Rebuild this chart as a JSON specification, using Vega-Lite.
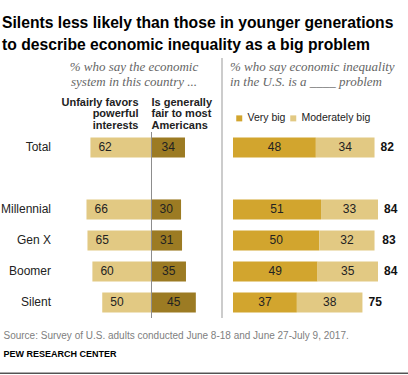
{
  "$schema": "https://vega.github.io/schema/vega-lite/v6.json",
  "width": 408,
  "height": 260,
  "autosize": {"type": "none"},
  "padding": {"left": 0, "top": 58, "right": 0, "bottom": 57},
  "title": {
    "text": ["Silents less likely than those in younger generations", "to describe economic inequality as a big problem"],
    "anchor": "start",
    "frame": "group",
    "dx": 2,
    "offset": 4,
    "font": "Liberation Sans",
    "fontSize": 15.7,
    "fontWeight": "bold",
    "color": "#000000",
    "lineHeight": 22
  },
  "data": {
    "values": [
      {"group": "Total", "unfair": 62, "fair": 34, "Very big": 48, "Moderately big": 34, "total": 82},
      {"group": "Millennial", "unfair": 66, "fair": 30, "Very big": 51, "Moderately big": 33, "total": 84},
      {"group": "Gen X", "unfair": 65, "fair": 31, "Very big": 50, "Moderately big": 32, "total": 83},
      {"group": "Boomer", "unfair": 60, "fair": 35, "Very big": 49, "Moderately big": 35, "total": 84},
      {"group": "Silent", "unfair": 50, "fair": 45, "Very big": 37, "Moderately big": 38, "total": 75}
    ]
  },
  "layer": [
    {
      "mark": {"type": "bar", "height": {"band": 0.65}, "color": "#E2C983"},
      "encoding": {
        "y": {"field": "group", "type": "nominal", "title": null, "axis": null,
          "scale": {"type": "band", "domain": [" ", "  ", "Total", "   ", "Millennial", "Gen X", "Boomer", "Silent"], "paddingInner": 0, "paddingOuter": 0.1935, "align": 1}},
        "x": {"field": "unfair", "type": "quantitative", "scale": {"domain": [-260.4, 153.8], "reverse": true, "nice": false, "zero": false},
          "axis": {"orient": "bottom", "domain": false, "ticks": false, "labels": false, "grid": false, "title": "Source: Survey of U.S. adults conducted June 8-18 and June 27-July 9, 2017.", "titleX": 3, "titleY": 17, "titleAlign": "left", "titleBaseline": "middle", "titleFontSize": 10, "titleFontWeight": "normal", "titleColor": "#808080", "titleFont": "Liberation Sans"}},
        "x2": {"datum": 0}
      }
    },
    {
      "mark": {"type": "text", "align": "right", "baseline": "middle", "font": "Liberation Sans", "fontSize": 12, "color": "#222222"},
      "encoding": {
        "y": {"field": "group", "type": "nominal", "title": null, "axis": null,
          "scale": {"type": "band", "domain": [" ", "  ", "Total", "   ", "Millennial", "Gen X", "Boomer", "Silent"], "paddingInner": 0, "paddingOuter": 0.1935, "align": 1}},
        "x": {"datum": 102, "type": "quantitative", "axis": null, "scale": {"domain": [-260.4, 153.8], "reverse": true, "nice": false, "zero": false}},
        "text": {"field": "group", "type": "nominal"}
      }
    },
    {
      "mark": {"type": "text", "align": "left", "baseline": "middle", "dx": 8, "font": "Liberation Sans", "fontSize": 12, "color": "#222222"},
      "encoding": {
        "y": {"field": "group", "type": "nominal", "title": null, "axis": null,
          "scale": {"type": "band", "domain": [" ", "  ", "Total", "   ", "Millennial", "Gen X", "Boomer", "Silent"], "paddingInner": 0, "paddingOuter": 0.1935, "align": 1}},
        "x": {"field": "unfair", "type": "quantitative", "axis": null, "scale": {"domain": [-260.4, 153.8], "reverse": true, "nice": false, "zero": false}},
        "text": {"field": "unfair", "type": "quantitative"}
      }
    },
    {
      "data": {"values": [{}]},
      "mark": {"type": "text", "align": "right", "baseline": "middle", "dx": -13, "dy": -13.5, "lineHeight": 11.3, "font": "Liberation Sans", "fontSize": 11, "fontWeight": "bold", "color": "#222222"},
      "encoding": {
        "y": {"datum": "  ", "type": "nominal", "title": null, "axis": null,
          "scale": {"type": "band", "domain": [" ", "  ", "Total", "   ", "Millennial", "Gen X", "Boomer", "Silent"], "paddingInner": 0, "paddingOuter": 0.1935, "align": 1}},
        "x": {"datum": 0, "type": "quantitative", "axis": null, "scale": {"domain": [-260.4, 153.8], "reverse": true, "nice": false, "zero": false}},
        "text": {"value": ["Unfairly favors", "powerful", "interests"]}
      }
    },
    {
      "data": {"values": [{}]},
      "mark": {"type": "text", "align": "center", "baseline": "middle", "dx": -17.5, "dy": -18.5, "lineHeight": 15, "font": "Liberation Serif", "fontStyle": "italic", "fontSize": 13, "color": "#666666"},
      "encoding": {
        "y": {"datum": " ", "type": "nominal", "title": null, "axis": null,
          "scale": {"type": "band", "domain": [" ", "  ", "Total", "   ", "Millennial", "Gen X", "Boomer", "Silent"], "paddingInner": 0, "paddingOuter": 0.1935, "align": 1}},
        "x": {"datum": 0, "type": "quantitative", "axis": null, "scale": {"domain": [-260.4, 153.8], "reverse": true, "nice": false, "zero": false}},
        "text": {"value": ["% who say the economic", "system in this country ..."]}
      }
    },
    {
      "mark": {"type": "bar", "height": {"band": 0.65}, "color": "#9C7B23"},
      "encoding": {
        "y": {"field": "group", "type": "nominal", "title": null, "axis": null,
          "scale": {"type": "band", "domain": [" ", "  ", "Total", "   ", "Millennial", "Gen X", "Boomer", "Silent"], "paddingInner": 0, "paddingOuter": 0.1935, "align": 1}},
        "x": {"field": "fair", "type": "quantitative", "axis": null, "scale": {"domain": [-153.8, 260.4], "nice": false, "zero": false}},
        "x2": {"datum": 0}
      }
    },
    {
      "mark": {"type": "text", "align": "center", "baseline": "middle", "font": "Liberation Sans", "fontSize": 12, "color": "#222222"},
      "encoding": {
        "y": {"field": "group", "type": "nominal", "title": null, "axis": null,
          "scale": {"type": "band", "domain": [" ", "  ", "Total", "   ", "Millennial", "Gen X", "Boomer", "Silent"], "paddingInner": 0, "paddingOuter": 0.1935, "align": 1}},
        "x": {"field": "fair", "type": "quantitative", "stack": "zero", "bandPosition": 0.5, "axis": null, "scale": {"domain": [-153.8, 260.4], "nice": false, "zero": false}},
        "text": {"field": "fair", "type": "quantitative"}
      }
    },
    {
      "data": {"values": [{}]},
      "mark": {"type": "rule", "color": "#8C8C8C", "strokeWidth": 1},
      "encoding": {
        "y": {"datum": "Total", "type": "nominal", "bandPosition": 0, "title": null, "axis": null,
          "scale": {"type": "band", "domain": [" ", "  ", "Total", "   ", "Millennial", "Gen X", "Boomer", "Silent"], "paddingInner": 0, "paddingOuter": 0.1935, "align": 1}},
        "y2": {"datum": "Silent", "bandPosition": 1},
        "x": {"datum": 0, "type": "quantitative", "axis": null, "scale": {"domain": [-153.8, 260.4], "nice": false, "zero": false}}
      }
    },
    {
      "data": {"values": [{}]},
      "mark": {"type": "text", "align": "left", "baseline": "middle", "dx": 0, "dy": -13.5, "lineHeight": 11.3, "font": "Liberation Sans", "fontSize": 11, "fontWeight": "bold", "color": "#222222"},
      "encoding": {
        "y": {"datum": "  ", "type": "nominal", "title": null, "axis": null,
          "scale": {"type": "band", "domain": [" ", "  ", "Total", "   ", "Millennial", "Gen X", "Boomer", "Silent"], "paddingInner": 0, "paddingOuter": 0.1935, "align": 1}},
        "x": {"datum": 0, "type": "quantitative", "axis": null, "scale": {"domain": [-153.8, 260.4], "nice": false, "zero": false}},
        "text": {"value": ["Is generally", "fair to most", "Americans"]}
      }
    },
    {
      "data": {"values": [{}]},
      "mark": {"type": "rule", "color": "#000000", "strokeWidth": 1},
      "encoding": {
        "y": {"datum": "Silent", "type": "nominal", "bandPosition": 2.78, "title": null, "axis": null,
          "scale": {"type": "band", "domain": [" ", "  ", "Total", "   ", "Millennial", "Gen X", "Boomer", "Silent"], "paddingInner": 0, "paddingOuter": 0.1935, "align": 1}}
      }
    },
    {
      "transform": [{"fold": ["Very big", "Moderately big"], "as": ["level", "pct"]}],
      "mark": {"type": "bar", "height": {"band": 0.65}},
      "encoding": {
        "y": {"field": "group", "type": "nominal", "title": null, "axis": null,
          "scale": {"type": "band", "domain": [" ", "  ", "Total", "   ", "Millennial", "Gen X", "Boomer", "Silent"], "paddingInner": 0, "paddingOuter": 0.1935, "align": 1}},
        "x": {"field": "pct", "type": "quantitative", "stack": "zero", "scale": {"domain": [-135.0, 101.39], "nice": false, "zero": false},
          "axis": {"orient": "bottom", "offset": 55, "domain": false, "ticks": false, "labels": false, "grid": false, "title": "PEW RESEARCH CENTER", "titleX": 3, "titleY": -20, "titleAlign": "left", "titleBaseline": "middle", "titleFontSize": 9, "titleFontWeight": "bold", "titleColor": "#000000", "titleFont": "Liberation Sans"}},
        "color": {"field": "level", "type": "nominal",
          "scale": {"domain": ["Very big", "Moderately big"], "range": ["#D2A52E", "#E2C983"]},
          "legend": {"orient": "none", "legendX": 234, "legendY": 55, "direction": "horizontal", "title": null, "symbolType": "square", "symbolSize": 36, "symbolStrokeWidth": 0, "labelFontSize": 10.5, "labelFont": "Liberation Sans", "labelColor": "#222222", "labelOffset": 3, "columnPadding": 2, "padding": 0}},
        "order": {"field": "level", "sort": "descending"}
      }
    },
    {
      "transform": [{"fold": ["Very big", "Moderately big"], "as": ["level", "pct"]}],
      "mark": {"type": "text", "align": "center", "baseline": "middle", "font": "Liberation Sans", "fontSize": 12, "color": "#222222"},
      "encoding": {
        "y": {"field": "group", "type": "nominal", "title": null, "axis": null,
          "scale": {"type": "band", "domain": [" ", "  ", "Total", "   ", "Millennial", "Gen X", "Boomer", "Silent"], "paddingInner": 0, "paddingOuter": 0.1935, "align": 1}},
        "x": {"field": "pct", "type": "quantitative", "stack": "zero", "bandPosition": 0.5, "axis": null, "scale": {"domain": [-135.0, 101.39], "nice": false, "zero": false}},
        "detail": {"field": "level", "type": "nominal"},
        "order": {"field": "level", "sort": "descending"},
        "text": {"field": "pct", "type": "quantitative"}
      }
    },
    {
      "mark": {"type": "text", "align": "left", "baseline": "middle", "dx": 6, "font": "Liberation Sans", "fontSize": 12, "fontWeight": "bold", "color": "#111111"},
      "encoding": {
        "y": {"field": "group", "type": "nominal", "title": null, "axis": null,
          "scale": {"type": "band", "domain": [" ", "  ", "Total", "   ", "Millennial", "Gen X", "Boomer", "Silent"], "paddingInner": 0, "paddingOuter": 0.1935, "align": 1}},
        "x": {"field": "total", "type": "quantitative", "axis": null, "scale": {"domain": [-135.0, 101.39], "nice": false, "zero": false}},
        "text": {"field": "total", "type": "quantitative"}
      }
    },
    {
      "data": {"values": [{}]},
      "mark": {"type": "rule", "color": "#999999", "strokeWidth": 1},
      "encoding": {
        "x": {"datum": -6.37, "type": "quantitative", "axis": null, "scale": {"domain": [-135.0, 101.39], "nice": false, "zero": false}}
      }
    },
    {
      "data": {"values": [{}]},
      "mark": {"type": "text", "align": "left", "baseline": "middle", "dx": -3, "dy": -18.5, "lineHeight": 15, "font": "Liberation Serif", "fontStyle": "italic", "fontSize": 13, "color": "#666666"},
      "encoding": {
        "y": {"datum": " ", "type": "nominal", "title": null, "axis": null,
          "scale": {"type": "band", "domain": [" ", "  ", "Total", "   ", "Millennial", "Gen X", "Boomer", "Silent"], "paddingInner": 0, "paddingOuter": 0.1935, "align": 1}},
        "x": {"datum": 0, "type": "quantitative", "axis": null, "scale": {"domain": [-135.0, 101.39], "nice": false, "zero": false}},
        "text": {"value": ["% who say economic inequality", "in the U.S. is a ____ problem"]}
      }
    }
  ],
  "resolve": {"scale": {"x": "independent"}},
  "config": {
    "view": {"stroke": null},
    "font": "Liberation Sans",
    "axis": {"grid": false}
  }
}
